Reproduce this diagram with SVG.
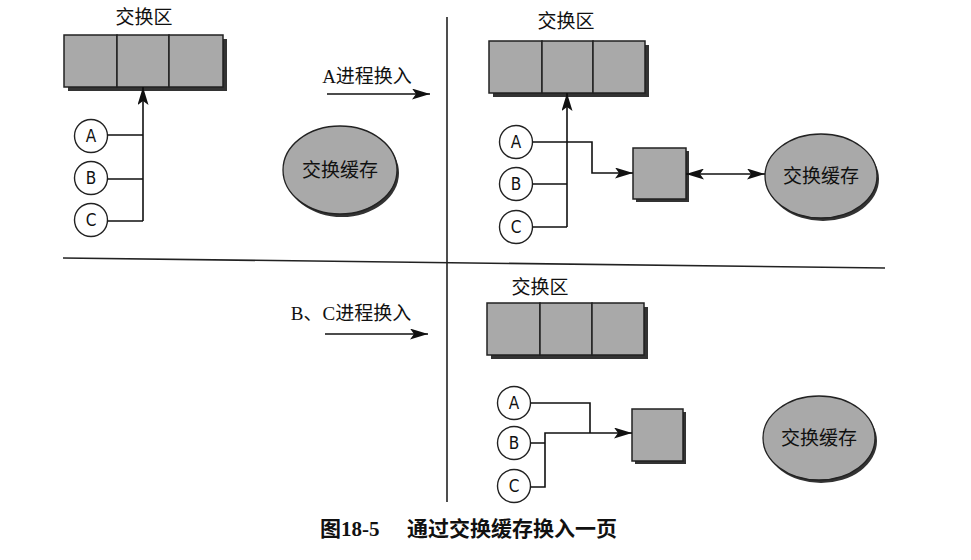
<svg xmlns="http://www.w3.org/2000/svg" width="971" height="560" viewBox="0 0 971 560">
<defs>
<style>
.bg{fill:#fff}
.div{stroke:#222;stroke-width:1.6;fill:none}
.cell{fill:#a9a9a9;stroke:#222;stroke-width:1.5}
.shadow{fill:#333}
.circ{fill:#fff;stroke:#222;stroke-width:1.4}
.ln{stroke:#111;stroke-width:1.6;fill:none}
.ell{fill:#a9a9a9;stroke:#222;stroke-width:1.3}
.lbl{font-family:"Noto Sans CJK SC",sans-serif;font-size:19px;fill:#111;text-anchor:middle}
.let{font-family:"DejaVu Sans",sans-serif;font-stretch:condensed;font-size:17px;fill:#111;text-anchor:middle}
.step{font-family:"Liberation Serif","Noto Sans CJK SC",serif;font-size:19px;fill:#111;text-anchor:middle}
.cap{font-family:"Liberation Serif","Noto Sans CJK SC",serif;font-size:21px;font-weight:bold;fill:#111}
</style>
<marker id="ahb" viewBox="0 0 18 11" refX="18" refY="5.5" markerWidth="18" markerHeight="11" markerUnits="userSpaceOnUse" orient="auto-start-reverse">
<path d="M0,0 L18,5.5 L0,11 L4,5.5 Z" fill="#111"/>
</marker>
</defs>
<rect class="bg" x="0" y="0" width="971" height="560"/>

<g id="dividers">
<line class="div" x1="447" y1="17" x2="447" y2="502"/>
<line class="div" x1="63" y1="258" x2="885" y2="268"/>
</g>

<!-- Panel 1 -->
<g id="p1-swaparea">
<text class="lbl" x="144" y="24">交换区</text>
<rect class="shadow" x="68" y="39" width="159" height="52"/>
<rect class="cell" x="64" y="35" width="53" height="52"/>
<rect class="cell" x="117" y="35" width="52" height="52"/>
<rect class="cell" x="169" y="35" width="54" height="52"/>
</g>
<g id="p1-A"><circle class="circ" cx="91" cy="136" r="16.5"/><text class="let" x="91" y="142">A</text></g>
<g id="p1-B"><circle class="circ" cx="91" cy="178" r="16.5"/><text class="let" x="91" y="184">B</text></g>
<g id="p1-C"><circle class="circ" cx="91" cy="220" r="16.5"/><text class="let" x="91" y="226">C</text></g>
<g id="p1-cache">
<ellipse class="shadow" cx="342" cy="173" rx="57" ry="44"/>
<ellipse class="ell" cx="340" cy="170" rx="57" ry="44"/>
<text class="lbl" x="340" y="177">交换缓存</text>
</g>
<g id="step1">
<text class="step" x="367" y="83">A进程换入</text>
</g>
<g id="step2">
<text class="step" x="351" y="320">B、C进程换入</text>
</g>

<!-- Panel 2 -->
<g id="p2-swaparea">
<text class="lbl" x="566" y="28">交换区</text>
<rect class="shadow" x="493" y="45" width="156" height="52"/>
<rect class="cell" x="489" y="41" width="53" height="52"/>
<rect class="cell" x="542" y="41" width="51" height="52"/>
<rect class="cell" x="593" y="41" width="52" height="52"/>
</g>
<g id="p2-A"><circle class="circ" cx="516" cy="142" r="16.5"/><text class="let" x="516" y="148">A</text></g>
<g id="p2-B"><circle class="circ" cx="516" cy="184" r="16.5"/><text class="let" x="516" y="190">B</text></g>
<g id="p2-C"><circle class="circ" cx="516" cy="227" r="16.5"/><text class="let" x="516" y="233">C</text></g>
<g id="p2-page">
<rect class="shadow" x="636" y="151" width="53" height="51"/>
<rect class="cell" x="633" y="148" width="53" height="51"/>
</g>
<g id="p2-cache">
<ellipse class="shadow" cx="823" cy="179" rx="56" ry="42"/>
<ellipse class="ell" cx="821" cy="176" rx="56" ry="42"/>
<text class="lbl" x="821" y="183">交换缓存</text>
</g>

<!-- Panel 3 -->
<g id="p3-swaparea">
<text class="lbl" x="540" y="294">交换区</text>
<rect class="shadow" x="491" y="307" width="157" height="52"/>
<rect class="cell" x="487" y="303" width="53" height="52"/>
<rect class="cell" x="540" y="303" width="52" height="52"/>
<rect class="cell" x="592" y="303" width="52" height="52"/>
</g>
<g id="p3-A"><circle class="circ" cx="514" cy="403" r="16.5"/><text class="let" x="514" y="409">A</text></g>
<g id="p3-B"><circle class="circ" cx="514" cy="443" r="16.5"/><text class="let" x="514" y="449">B</text></g>
<g id="p3-C"><circle class="circ" cx="514" cy="486" r="16.5"/><text class="let" x="514" y="492">C</text></g>
<g id="p3-page">
<rect class="shadow" x="635" y="412" width="51" height="52"/>
<rect class="cell" x="632" y="409" width="51" height="52"/>
</g>
<g id="p3-cache">
<ellipse class="shadow" cx="821" cy="441" rx="56" ry="42"/>
<ellipse class="ell" cx="819" cy="438" rx="56" ry="42"/>
<text class="lbl" x="819" y="445">交换缓存</text>
</g>

<g id="connectors">
<!-- panel 1 -->
<path class="ln" d="M107.5,135 H143 M107.5,179 H143 M107.5,221 H143"/>
<line class="ln" x1="143" y1="221" x2="143" y2="87" marker-end="url(#ahb)"/>
<line class="ln" x1="327" y1="94" x2="430" y2="94" stroke-width="2" marker-end="url(#ahb)"/>
<line class="ln" x1="325" y1="334" x2="428" y2="334" stroke-width="2" marker-end="url(#ahb)"/>
<!-- panel 2 -->
<path class="ln" d="M532.5,184 H567 M532.5,227 H567"/>
<line class="ln" x1="567" y1="227" x2="567" y2="93" marker-end="url(#ahb)"/>
<path class="ln" d="M532.5,142 H592 V173 H633" marker-end="url(#ahb)"/>
<line class="ln" x1="686" y1="174" x2="765" y2="174" marker-start="url(#ahb)" marker-end="url(#ahb)"/>
<!-- panel 3 -->
<path class="ln" d="M530.5,403 H590 V433"/>
<path class="ln" d="M530.5,443 H545 M530.5,487 H545 V433 H632" marker-end="url(#ahb)"/>
</g>

<g id="caption">
<text class="cap" x="320" y="536">图18-5</text>
<text class="cap" x="407" y="536">通过交换缓存换入一页</text>
</g>
</svg>
